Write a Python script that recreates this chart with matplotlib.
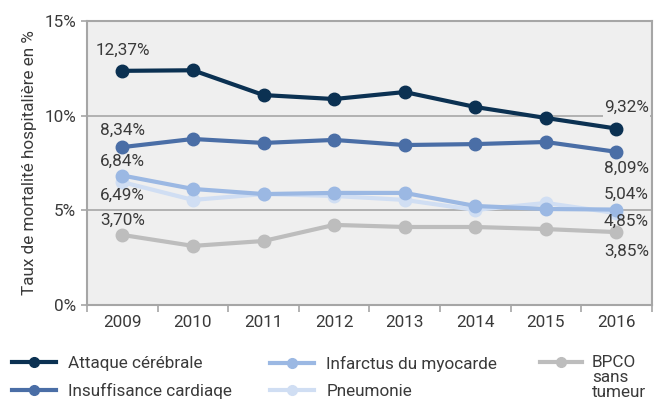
import matplotlib.pyplot as plt
from matplotlib.lines import Line2D
import numpy as np

plt.rcParams['font.family'] = ['Roboto', 'DejaVu Sans']

annees = ['2009', '2010', '2011', '2012', '2013', '2014', '2015', '2016']
attaque = [12.37, 12.40, 11.09, 10.88, 11.25, 10.46, 9.88, 9.32]
insuffisance = [8.34, 8.77, 8.56, 8.72, 8.45, 8.50, 8.61, 8.09]
infarctus = [6.84, 6.13, 5.86, 5.92, 5.92, 5.23, 5.07, 5.04]
pneumonie = [6.49, 5.55, 5.86, 5.76, 5.55, 5.02, 5.39, 4.85]
bpco = [3.70, 3.12, 3.38, 4.23, 4.12, 4.12, 4.01, 3.85]

noms = ['Attaque cérébrale', 'Insuffisance cardiaqe', 'Infarctus du myocarde',
        'Pneumonie', 'BPCO\nsans\ntumeur']
couleurs = ['#0b3152', '#4a6ea6', '#9bb8e3', '#d0def3', '#bdbdbd']
valeurs = [attaque, insuffisance, infarctus, pneumonie, bpco]

TXT = '#3a3a3a'
FS = 12.3

fig = plt.figure(figsize=(6.55, 4.05), dpi=100)
ax = fig.add_axes([0.133, 0.247, 0.862, 0.701])
ax.set_facecolor('#efefef')

x = np.arange(len(annees))
lignes = {}
for i in [3, 4, 2, 1, 0]:
    l, = ax.plot(x, valeurs[i], color=couleurs[i], lw=3, marker='o', ms=9,
                 label=noms[i], zorder=3)
    lignes[noms[i]] = l

ax.set_xlim(-0.5, len(annees) - 0.5)
ax.set_ylim(0, 15)
ax.set_yticks([0, 5, 10, 15])
ax.set_yticklabels(['0%', '5%', '10%', '15%'])
ax.set_xticks(x)
ax.set_xticklabels(annees)
ax.set_xticks(np.arange(-0.5, len(annees)), minor=True)
ax.tick_params(axis='x', which='major', length=0, pad=7)
ax.tick_params(axis='x', which='minor', length=5, color='#a6a6a6', width=1.2)
ax.tick_params(axis='y', length=4, color='#a6a6a6', width=1.2, pad=4)
ax.tick_params(labelsize=FS, labelcolor=TXT)

ax.grid(axis='y', color='#a6a6a6', lw=1.2)
ax.set_axisbelow(True)
for s in ax.spines.values():
    s.set_color('#a6a6a6')
    s.set_linewidth(1.5)

ax.set_ylabel('Taux de mortalité hospitalière en %', fontsize=FS,
              color=TXT, labelpad=5)

txt = dict(fontsize=FS, color=TXT, ha='center', va='center')
fmt = lambda v: f'{v:.2f}%'.replace('.', ',')
# etiquettes 2009
ax.text(0, attaque[0] + 1.1, fmt(attaque[0]), **txt)
ax.text(0, insuffisance[0] + 0.9, fmt(insuffisance[0]), **txt)
ax.text(0, infarctus[0] + 0.75, fmt(infarctus[0]), **txt)
ax.text(0, pneumonie[0] - 0.7, fmt(pneumonie[0]), **txt)
ax.text(0, bpco[0] + 0.75, fmt(bpco[0]), **txt)
# etiquettes 2016
n = len(annees) - 1
ax.text(n + 0.14, attaque[n] + 1.1, fmt(attaque[n]),
        bbox=dict(facecolor='#efefef', edgecolor='none', pad=1), **txt)
ax.text(n + 0.14, insuffisance[n] - 0.85, fmt(insuffisance[n]), **txt)
ax.text(n + 0.14, infarctus[n] + 0.8, fmt(infarctus[n]), **txt)
ax.text(n + 0.14, pneumonie[n] - 0.45, fmt(pneumonie[n]), **txt)
ax.text(n + 0.14, bpco[n] - 1.0, fmt(bpco[n]), **txt)

# legende en colonnes
leg_kw = dict(loc='upper left', frameon=False, fontsize=FS, handlelength=2.6,
              handletextpad=0.7, labelspacing=0.68, borderaxespad=0,
              borderpad=0, labelcolor=TXT)
leg1 = fig.legend([lignes[noms[0]], lignes[noms[1]]], noms[:2],
                  bbox_to_anchor=(12 / 655, 1 - 356 / 405), **leg_kw)
leg2 = fig.legend([lignes[noms[2]], lignes[noms[3]]], noms[2:4],
                  bbox_to_anchor=(270 / 655, 1 - 356 / 405), **leg_kw)
for lg in (leg1, leg2):
    for h in lg.legend_handles:
        h.set_markersize(7)

# BPCO : echantillon aligne sur la premiere ligne
yl = 1 - 362 / 405
fig.add_artist(Line2D([540 / 655, 582 / 655], [yl, yl], color=couleurs[4], lw=3))
fig.add_artist(Line2D([561 / 655], [yl], color=couleurs[4], marker='o', ms=7))
fig.text(592 / 655, 1 - 355 / 405, noms[4], fontsize=FS, color=TXT,
         va='top', ha='left', linespacing=0.98)

fig.savefig('out.png', dpi=100)
